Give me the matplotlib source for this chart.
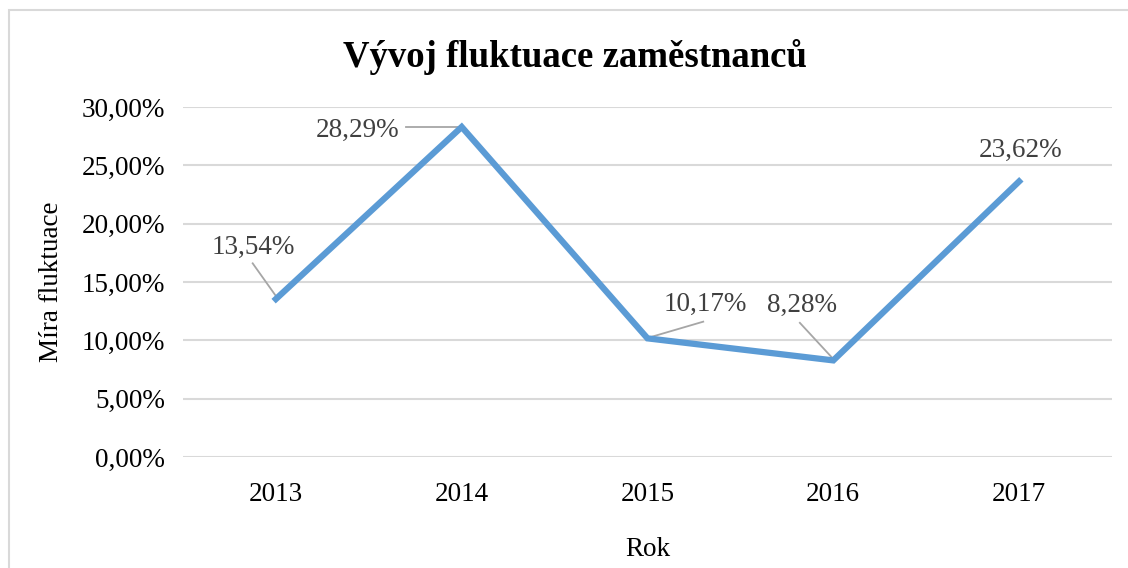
import matplotlib
matplotlib.use("Agg")
import matplotlib.pyplot as plt
from matplotlib.patches import Rectangle

years = ["2013", "2014", "2015", "2016", "2017"]
rates = [13.54, 28.29, 10.17, 8.28, 23.62]
labels = ["13,54%", "28,29%", "10,17%", "8,28%", "23,62%"]
yticks = [0, 5, 10, 15, 20, 25, 30]
ytick_labels = ["0,00%", "5,00%", "10,00%", "15,00%", "20,00%", "25,00%", "30,00%"]
# label offsets (in data units: x categories, y percent)
label_pos = [(-0.12, 18.0), (-0.56, 28.0), (0.31, 13.1), (-0.17, 13.0), (0.01, 26.3)]

plt.rcParams['font.family'] = ['Liberation Serif', 'DejaVu Serif']

W, H = 1128, 568
fig = plt.figure(figsize=(W / 100, H / 100), dpi=100)
fig.patch.set_facecolor("white")

# chart border
fig.add_artist(Rectangle((9 / W, -0.05), 1.2, 1 - 10 / H + 0.05, transform=fig.transFigure,
                         fill=False, edgecolor="#d9d9d9", lw=1.5))

ax = fig.add_axes([183 / W, 1 - 457 / H, (1112 - 183) / W, (457 - 107) / H])
x = list(range(len(years)))
ax.plot(x, rates, color="#5B9BD5", lw=4.5, solid_joinstyle="miter", zorder=3)
ax.set_xlim(-0.5, len(years) - 0.5)
ax.set_ylim(0, 30)
ax.set_yticks(yticks)
ax.set_yticklabels(ytick_labels)
ax.set_xticks(x)
ax.set_xticklabels(years)
ax.tick_params(axis="both", length=0, labelsize=19.5, colors="black")
ax.tick_params(axis="y", pad=13)
ax.tick_params(axis="x", pad=18)
ax.grid(axis="y", color="#d9d9d9", lw=1.5)
for s in ax.spines.values():
    s.set_visible(False)
ax.set_axisbelow(True)

for i, (xi, yi) in enumerate(zip(x, rates)):
    dx, ly = label_pos[i]
    ax.text(xi + dx, ly, labels[i], fontsize=19.5, color="#404040", ha="center", va="center", zorder=4)

# leader lines
ax.plot([-0.125, 0.0], [16.6, 13.8], color="#a6a6a6", lw=1.3, zorder=2)
ax.plot([1 - 0.3, 1.0], [28.3, 28.3], color="#a6a6a6", lw=1.3, zorder=2)
ax.plot([2 + 0.3, 2.0], [11.6, 10.2], color="#a6a6a6", lw=1.3, zorder=2)
ax.plot([3 - 0.18, 3.0], [11.5, 8.4], color="#a6a6a6", lw=1.3, zorder=2)

fig.text(575 / W, 1 - 57 / H, "Vývoj fluktuace zaměstnanců", fontsize=26.5, fontweight="bold",
         ha="center", va="center")
fig.text(648 / W, 1 - 550 / H, "Rok", fontsize=19.5, ha="center", va="center")
fig.text(52 / W, 1 - 282 / H, "Míra fluktuace", fontsize=19.5, ha="center", va="center", rotation=90)

fig.savefig("out.png", dpi=100, facecolor="white")
